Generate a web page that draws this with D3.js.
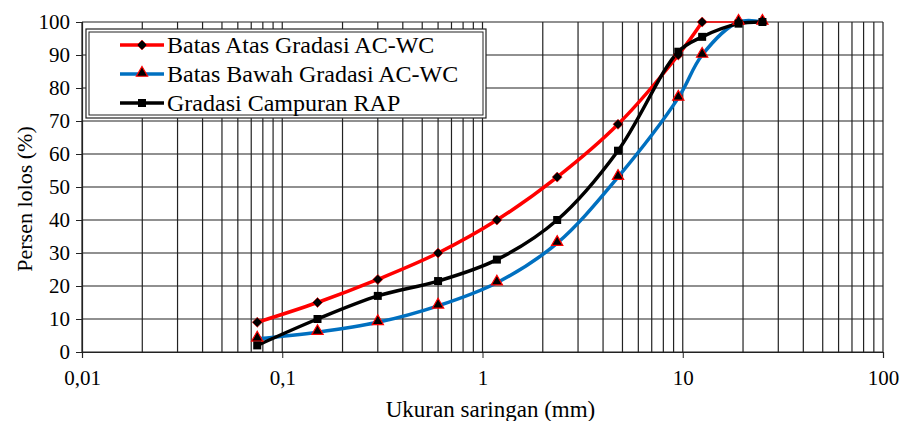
<!DOCTYPE html>
<html>
<head>
<meta charset="utf-8">
<script src="https://cdn.jsdelivr.net/npm/d3@7"></script>
<style>
  body { margin: 0; background: #fff; }
  svg text { font-family: "Liberation Serif", Tinos, "Times New Roman", Times, "DejaVu Serif", serif !important; fill: #000; }
</style>
</head>
<body>
<div id="chart"></div>
<script>
// sieve sizes (mm) and percent passing
let sieves = [0.075, 0.15, 0.3, 0.6, 1.18, 2.36, 4.75, 9.5, 12.5, 19, 25];
let batasAtas = [9, 15, 22, 30, 40, 53, 69, 90, 100, 100, 100];
let batasBawah = [4, 6, 9, 14, 21, 33, 53, 77, 90, 100, 100];
let campuranRAP = [2, 10, 17, 21.5, 28, 40, 61, 91, 95.5, 99.5, 100];
let xTicks = [0.01, 0.1, 1, 10, 100];
let yTicks = [0, 10, 20, 30, 40, 50, 60, 70, 80, 90, 100];
let legendLabels = ['Batas Atas Gradasi AC-WC', 'Batas Bawah Gradasi AC-WC', 'Gradasi Campuran RAP'];

let width = 904, height = 421;
let margin = { left: 82, right: 21, top: 22, bottom: 69 };

let svg = d3.select('#chart').append('svg')
    .attr('width', width)
    .attr('height', height);

let x = d3.scaleLog().domain([0.01, 100]).range([margin.left, width - margin.right]);
let y = d3.scaleLinear().domain([0, 100]).range([height - margin.bottom, margin.top]);

// grid - minor log lines
let minor = [];
for (let d = 0.01; d < 100; d *= 10) {
    for (let k = 1; k <= 9; k++) minor.push(d * k);
}
minor.push(100);

svg.append('g').selectAll('line')
    .data(minor)
    .enter().append('line')
    .attr('x1', d => x(d)).attr('x2', d => x(d))
    .attr('y1', y(0)).attr('y2', y(100))
    .attr('stroke', '#222').attr('stroke-width', 1.2);

svg.append('g').selectAll('line')
    .data(yTicks)
    .enter().append('line')
    .attr('x1', x(0.01)).attr('x2', x(100))
    .attr('y1', d => y(d)).attr('y2', d => y(d))
    .attr('stroke', '#222').attr('stroke-width', 1.2);

// axes
let yAxis = d3.axisLeft(y).tickValues(yTicks).tickSize(6).tickPadding(6);
let gy = svg.append('g').attr('transform', 'translate(' + margin.left + ',0)').call(yAxis);
gy.attr('font-family', null);
gy.select('.domain').attr('stroke', '#222').attr('stroke-width', 1.2);
gy.selectAll('.tick line').attr('stroke', '#222');
gy.selectAll('text').style('font-size', '21px');

let xAxis = d3.axisBottom(x).tickValues(xTicks).tickSize(6).tickPadding(12)
    .tickFormat(d => String(d).replace('.', ','));
let gx = svg.append('g').attr('transform', 'translate(0,' + y(0) + ')').call(xAxis);
gx.attr('font-family', null);
gx.select('.domain').attr('stroke', '#222').attr('stroke-width', 1.2);
gx.selectAll('.tick line').attr('stroke', '#222');
gx.selectAll('text').style('font-size', '21px');

// axis titles
svg.append('text')
    .attr('x', (x(0.01) + x(100)) / 2 + 8)
    .attr('y', 417)
    .attr('text-anchor', 'middle')
    .style('font-size', '23px')
    .text('Ukuran saringan (mm)');

svg.append('text')
    .attr('transform', 'translate(32,199) rotate(-90)')
    .attr('text-anchor', 'middle')
    .style('font-size', '22px')
    .text('Persen lolos (%)');

// series
let line = d3.line()
    .x(d => x(d[0]))
    .y(d => y(d[1]))
    .curve(d3.curveCatmullRom.alpha(0.5));

let upperPts = sieves.map((s, i) => [s, batasAtas[i]]);
let lowerPts = sieves.map((s, i) => [s, batasBawah[i]]);
let rapPts = sieves.map((s, i) => [s, campuranRAP[i]]);

// upper limit: thick up to 12.5, thin beyond
svg.append('path')
    .attr('d', line(upperPts.slice(0, 9)))
    .attr('fill', 'none').attr('stroke', '#ff0000').attr('stroke-width', 3.5);
svg.append('path')
    .attr('d', line(upperPts.slice(8)))
    .attr('fill', 'none').attr('stroke', '#ff0000').attr('stroke-width', 1.5);

svg.append('path')
    .attr('d', line(lowerPts))
    .attr('fill', 'none').attr('stroke', '#0070c0').attr('stroke-width', 3.5);

svg.append('path')
    .attr('d', line(rapPts))
    .attr('fill', 'none').attr('stroke', '#000').attr('stroke-width', 3.5);

// markers
let diamond = d3.symbol().type(d3.symbolDiamond2).size(64);
let triangle = d3.symbol().type(d3.symbolTriangle).size(55);
let square = d3.symbol().type(d3.symbolSquare).size(64);

svg.append('g').selectAll('path')
    .data(upperPts.slice(0, 9))
    .enter().append('path')
    .attr('d', diamond)
    .attr('transform', d => 'translate(' + x(d[0]) + ',' + y(d[1]) + ')')
    .attr('fill', '#000').attr('stroke', '#ff0000').attr('stroke-width', 0.6);

svg.append('g').selectAll('path')
    .data(lowerPts)
    .enter().append('path')
    .attr('d', triangle)
    .attr('transform', d => 'translate(' + x(d[0]) + ',' + (y(d[1]) - 1) + ')')
    .attr('fill', '#000').attr('stroke', '#ff0000').attr('stroke-width', 1.2);

svg.append('g').selectAll('path')
    .data(rapPts)
    .enter().append('path')
    .attr('d', square)
    .attr('transform', d => 'translate(' + x(d[0]) + ',' + y(d[1]) + ')')
    .attr('fill', '#000');

// legend
let lg = svg.append('g');
lg.append('rect')
    .attr('x', 86).attr('y', 29).attr('width', 400).attr('height', 89)
    .attr('fill', '#fff').attr('stroke', '#222').attr('stroke-width', 1.2);
lg.append('rect')
    .attr('x', 89).attr('y', 32).attr('width', 394).attr('height', 83)
    .attr('fill', 'none').attr('stroke', '#222').attr('stroke-width', 1);

let legendColors = ['#ff0000', '#0070c0', '#000'];
let legendSymbols = [diamond, triangle, square];
legendLabels.forEach((label, i) => {
    let ly = 45 + i * 29;
    lg.append('line')
        .attr('x1', 120).attr('x2', 164)
        .attr('y1', ly).attr('y2', ly)
        .attr('stroke', legendColors[i]).attr('stroke-width', 3.5);
    lg.append('path')
        .attr('d', legendSymbols[i])
        .attr('transform', 'translate(142,' + (i === 1 ? ly - 1 : ly) + ')')
        .attr('fill', '#000')
        .attr('stroke', i === 2 ? 'none' : '#ff0000')
        .attr('stroke-width', i === 1 ? 1.2 : 0.6);
    lg.append('text')
        .attr('x', 167).attr('y', ly + 8)
        .style('font-size', '24px')
        .text(label);
});
</script>
</body>
</html>
